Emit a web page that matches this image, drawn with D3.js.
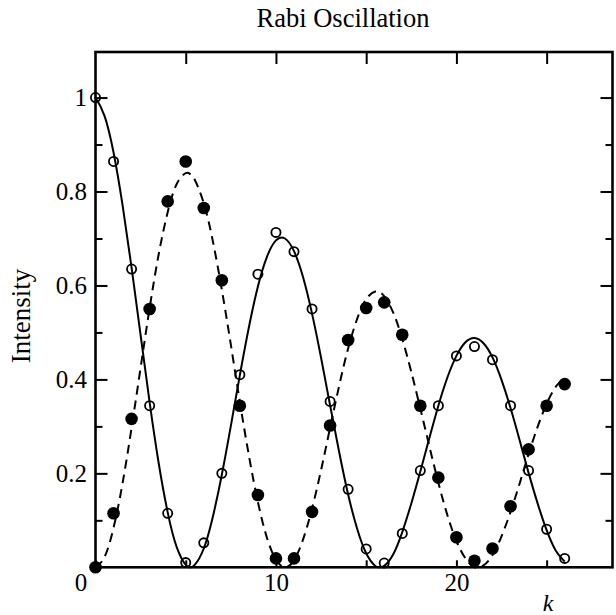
<!DOCTYPE html>
<html>
<head>
<meta charset="utf-8">
<script src="https://cdn.jsdelivr.net/npm/d3@7"></script>
<style>
  body { margin: 0; background: #fff; }
  svg text { font-family: "Liberation Serif", "Times New Roman", serif; fill: #000; }
</style>
</head>
<body>
<div id="chart"></div>
<script>
// measured points (k = 0 .. 26)
var k_points      = [0,1,2,3,4,5,6,7,8,9,10,11,12,13,14,15,16,17,18,19,20,21,22,23,24,25,26];
var open_points   = [1.000,0.864,0.635,0.344,0.115,0.010,0.052,0.200,0.410,0.624,0.713,0.672,0.550,0.353,0.166,0.039,0.009,0.072,0.206,0.344,0.450,0.470,0.442,0.344,0.206,0.081,0.019];
var filled_points = [0.000,0.115,0.316,0.550,0.779,0.864,0.765,0.611,0.344,0.154,0.019,0.019,0.118,0.302,0.484,0.552,0.564,0.495,0.344,0.191,0.064,0.014,0.040,0.130,0.251,0.344,0.390];

// fitted curves
var curve_k      = [0,0.5,1,1.5,2,2.5,3,3.5,4,4.5,5,5.25,5.5,6,6.5,7,7.5,8,8.5,9,9.5,10,10.5,11,11.5,12,12.5,13,13.5,14,14.5,15,15.5,15.75,16,16.5,17,17.5,18,18.5,19,19.5,20,20.5,21,21.5,22,22.5,23,23.5,24,24.5,25,25.5,26];
var curve_solid  = [1.000,0.961,0.883,0.771,0.638,0.494,0.351,0.222,0.117,0.043,0.005,0.000,0.005,0.040,0.107,0.197,0.301,0.409,0.511,0.598,0.661,0.696,0.700,0.673,0.618,0.540,0.446,0.345,0.246,0.155,0.082,0.030,0.003,0.000,0.003,0.028,0.075,0.136,0.204,0.275,0.344,0.404,0.450,0.479,0.488,0.477,0.447,0.399,0.339,0.271,0.201,0.136,0.079,0.036,0.012];
var curve_dashed = [0.000,0.022,0.084,0.179,0.297,0.425,0.552,0.666,0.756,0.816,0.839,0.837,0.825,0.775,0.695,0.591,0.474,0.352,0.238,0.139,0.063,0.016,0.000,0.015,0.059,0.125,0.207,0.297,0.386,0.466,0.529,0.571,0.587,0.585,0.577,0.542,0.486,0.416,0.338,0.258,0.180,0.111,0.056,0.019,0.000,0.004,0.026,0.066,0.118,0.178,0.241,0.299,0.348,0.384,0.404];

var x_ticks       = [0,5,10,15,20,25];
var y_major_ticks = [0.2,0.4,0.6,0.8,1];
var y_minor_ticks = [0.1,0.3,0.5,0.7,0.9];

var width_chart  = 616;
var height_chart = 615;

var x_chart = d3.scaleLinear().domain([0, 28.65]).range([95.5, 612.5]);
var y_chart = d3.scaleLinear().domain([0, 1.097]).range([567.3, 52]);

var svg_chart = d3.select("#chart").append("svg")
  .attr("width", width_chart)
  .attr("height", height_chart);

var plot_left   = x_chart.range()[0],
    plot_right  = x_chart.range()[1],
    plot_bottom = y_chart.range()[0],
    plot_top    = y_chart.range()[1];

// axes (ticks point inward)
function style_axis (g) {
  g.select(".domain").remove();
  g.selectAll(".tick line").attr("stroke", "#000").attr("stroke-width", 2);
  g.selectAll(".tick text").style("font-size", "25px");
}

svg_chart.append("g")
  .attr("transform", "translate(" + plot_left + ",0)")
  .call(d3.axisLeft(y_chart).tickValues(y_major_ticks).tickSize(-12).tickPadding(8.5)
    .tickFormat(function (d) { return d === 1 ? "1" : d.toFixed(1); }))
  .call(style_axis);
svg_chart.append("g")
  .attr("transform", "translate(" + plot_left + ",0)")
  .call(d3.axisLeft(y_chart).tickValues(y_minor_ticks).tickSize(-7).tickFormat(""))
  .call(style_axis);
svg_chart.append("g")
  .attr("transform", "translate(" + plot_right + ",0)")
  .call(d3.axisRight(y_chart).tickValues(y_major_ticks).tickSize(-12).tickFormat(""))
  .call(style_axis);
svg_chart.append("g")
  .attr("transform", "translate(" + plot_right + ",0)")
  .call(d3.axisRight(y_chart).tickValues(y_minor_ticks).tickSize(-7).tickFormat(""))
  .call(style_axis);
svg_chart.append("g")
  .attr("transform", "translate(0," + plot_top + ")")
  .call(d3.axisTop(x_chart).tickValues(x_ticks.slice(1)).tickSize(-12).tickFormat(""))
  .call(style_axis);
var axis_bottom = svg_chart.append("g")
  .attr("transform", "translate(0," + plot_bottom + ")")
  .call(d3.axisBottom(x_chart).tickValues(x_ticks).tickSize(-7).tickPadding(6)
    .tickFormat(function (d) { return d % 10 === 0 ? d : ""; }))
  .call(style_axis);
axis_bottom.selectAll(".tick text").filter(function (d) { return d === 0; }).attr("dx", -15);

// frame
svg_chart.append("rect")
  .attr("x", plot_left).attr("y", plot_top)
  .attr("width", plot_right - plot_left).attr("height", plot_bottom - plot_top)
  .attr("fill", "none").attr("stroke", "#000").attr("stroke-width", 2.6);

// curves
var line_curve = d3.line()
  .curve(d3.curveNatural)
  .x(function (d, i) { return x_chart(curve_k[i]); })
  .y(function (d) { return y_chart(d); });

svg_chart.append("path")
  .datum(curve_solid)
  .attr("d", line_curve)
  .attr("fill", "none").attr("stroke", "#000").attr("stroke-width", 2);

svg_chart.append("path")
  .datum(curve_dashed)
  .attr("d", line_curve)
  .attr("fill", "none").attr("stroke", "#000").attr("stroke-width", 2)
  .attr("stroke-dasharray", "9,6");

// points
svg_chart.append("g").selectAll("circle")
  .data(filled_points)
  .join("circle")
  .attr("cx", function (d, i) { return x_chart(k_points[i]); })
  .attr("cy", function (d) { return y_chart(d); })
  .attr("r", 6.3)
  .attr("fill", "#000");

svg_chart.append("g").selectAll("circle")
  .data(open_points)
  .join("circle")
  .attr("cx", function (d, i) { return x_chart(k_points[i]); })
  .attr("cy", function (d) { return y_chart(d); })
  .attr("r", 4.6)
  .attr("fill", "none")
  .attr("stroke", "#000")
  .attr("stroke-width", 1.8);

// titles
svg_chart.append("text")
  .attr("x", 343).attr("y", 27)
  .attr("text-anchor", "middle")
  .style("font-size", "26.5px")
  .text("Rabi Oscillation");

svg_chart.append("text")
  .attr("transform", "translate(30,316) rotate(-90)")
  .attr("text-anchor", "middle")
  .style("font-size", "27px")
  .text("Intensity");

svg_chart.append("text")
  .attr("x", 548).attr("y", 611)
  .attr("text-anchor", "middle")
  .style("font-size", "24px")
  .style("font-style", "italic")
  .text("k");
</script>
</body>
</html>
